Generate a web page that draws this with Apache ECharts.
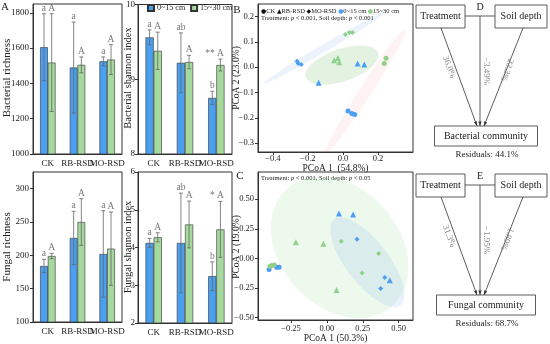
<!DOCTYPE html>
<html><head><meta charset="utf-8">
<script src="https://cdn.jsdelivr.net/npm/echarts@6/dist/echarts.min.js"></script>
<style>html,body{margin:0;padding:0;background:#fff}#c{width:550px;height:344px}</style>
</head><body><div id="c"></div>
<script>
// ---------------- DATA ----------------
const categories = ['CK', 'RB-RSD', 'MO-RSD'];
const depthNames = ['0~15 cm', '15~30 cm'];

// Bacterial richness
const bacRichMean0 = [1605, 1490, 1525];
const bacRichSd0   = [190, 258, 25];
const bacRichMean1 = [1518, 1505, 1535];
const bacRichSd1   = [277, 45, 85];
const bacRichLet0  = ['a', 'a', 'a'];
const bacRichLet1  = ['A', 'A', 'A'];
const bacRichTicks = [1000, 1200, 1400, 1600, 1800];

// Bacterial shannon
const bacShanMean0 = [9.56, 9.22, 8.75];
const bacShanSd0   = [0.1, 0.4, 0.09];
const bacShanMean1 = [9.38, 9.23, 9.19];
const bacShanSd1   = [0.25, 0.09, 0.08];
const bacShanLet0  = ['a', 'ab', 'b'];
const bacShanLet1  = ['A', 'A', '** A'];
const bacShanTicks = [8, 9, 10];

// Fungal richness
const funRichMean0 = [184, 226, 202];
const funRichSd0   = [10, 40, 65];
const funRichMean1 = [199, 250, 210];
const funRichSd1   = [4, 35, 55];
const funRichLet0  = ['a', 'a', 'a'];
const funRichLet1  = ['A', 'A', 'A'];
const funRichTicks = [100, 150, 200, 250, 300];

// Fungal shannon
const funShanMean0 = [4.12, 4.12, 3.24];
const funShanSd0   = [0.12, 1.32, 0.38];
const funShanMean1 = [4.27, 4.61, 4.48];
const funShanSd1   = [0.12, 0.62, 0.74];
const funShanLet0  = ['a', 'ab', 'b'];
const funShanLet1  = ['A', 'A', '* A'];
const funShanTicks = [2, 3, 4, 5, 6];

// PCoA bacteria (B)  [PCoA1, PCoA2]
const bacCK0 = [[0.029, -0.173], [0.051, -0.183], [0.067, -0.187]];
const bacCK1 = [[0.246, 0.036], [0.236, 0.015]];
const bacRB0 = [[0.084, 0.015], [0.122, 0.011], [-0.139, -0.061]];
const bacRB1 = [[-0.05, 0.028], [-0.029, 0.037], [-0.021, 0.02]];
const bacMO0 = [[-0.262, 0.024], [-0.255, 0.015], [-0.238, 0.011]];
const bacMO1 = [[0.014, 0.129], [0.037, 0.137], [0.055, 0.137]];
const bacXTicks = [-0.4, -0.2, 0.0, 0.2];
const bacYTicks = [-0.3, -0.2, -0.1, 0.0, 0.1, 0.2];

// PCoA fungi (C)
const funCK0 = [[-0.403, -0.093], [-0.35, -0.074], [-0.333, -0.074]];
const funCK1 = [[-0.385, -0.059], [-0.367, -0.056], [-0.396, -0.065]];
const funRB0 = [[0.084, 0.379], [0.183, 0.372], [0.438, -0.185]];
const funRB1 = [[-0.216, 0.137], [-0.025, 0.124], [0.067, -0.267]];
const funMO0 = [[0.21, 0.161], [0.403, -0.162], [0.375, -0.253]];
const funMO1 = [[0.1, 0.145], [0.361, 0.042], [0.245, -0.124]];
const funXTicks = [-0.25, 0.0, 0.25, 0.5];
const funYTicks = [-0.5, -0.25, 0.0, 0.25, 0.5];

// Variation partitioning (D, E), %
const bacPart = { treatment: 36.0, shared: -3.49, depth: 23.3, residual: 44.1 };
const funPart = { treatment: 31.3, shared: -1.95, depth: 1.89, residual: 68.7 };

// ---------------- STYLE / LAYOUT ----------------
const SERIF = '"Liberation Serif", "Times New Roman", serif';
const BLUE = '#4a9ff0', GREEN = '#a5d99d';
const PBLUE = '#4a9ff5', PGREEN = '#8fd18a';
const AX = '#333';
const chart = echarts.init(document.getElementById('c'));

const grids = [
  { left: 33, top: 4, width: 89, height: 150 },    // bac richness
  { left: 138, top: 4, width: 94, height: 150 },   // bac shannon
  { left: 33, top: 172, width: 89, height: 150 },  // fun richness
  { left: 138, top: 172, width: 94, height: 151 }, // fun shannon
  { left: 258, top: 4, width: 155, height: 148 },  // B
  { left: 258, top: 172, width: 155, height: 149 } // C
].map(g => Object.assign({ show: true, borderColor: AX, borderWidth: 1, backgroundColor: 'transparent', containLabel: false }, g));

function catX(gi, margin) {
  return { type: 'category', gridIndex: gi, data: categories,
    axisLine: { lineStyle: { color: AX } }, axisTick: { show: false },
    axisLabel: { interval: 0, fontFamily: SERIF, fontSize: 9, color: '#222', margin: margin } };
}
function valY(gi, min, max, ticks, dec, fs, lm) {
  return { type: 'value', gridIndex: gi, min: min, max: max,
    axisLine: { show: true, onZero: false, lineStyle: { color: AX } },
    axisTick: { show: true, length: 3, lineStyle: { color: AX }, customValues: ticks },
    axisLabel: { fontFamily: SERIF, fontSize: fs, color: '#222', margin: lm, customValues: ticks,
      formatter: v => v.toFixed(dec).replace('-', '\u2212') },
    splitLine: { show: false } };
}
function valX(gi, min, max, ticks, dec, name, nameGap, margin) {
  return { type: 'value', gridIndex: gi, min: min, max: max,
    name: name, nameLocation: 'middle', nameGap: nameGap, nameMoveOverlap: false,
    nameTextStyle: { fontFamily: SERIF, fontSize: 9.5, color: '#222' },
    axisLine: { show: true, onZero: false, lineStyle: { color: AX } },
    axisTick: { show: true, length: 3, lineStyle: { color: AX }, customValues: ticks },
    axisLabel: { fontFamily: SERIF, fontSize: 8.5, color: '#222', margin: margin, customValues: ticks,
      formatter: v => v.toFixed(dec).replace('-', '\u2212') },
    splitLine: { show: false } };
}

const xAxes = [catX(0, 5), catX(1, 5), catX(2, 5), catX(3, 5),
  valX(4, -0.485, 0.40, bacXTicks, 1, 'PCoA 1  (54.8%)', 11, 2),
  valX(5, -0.48, 0.60, funXTicks, 2, 'PCoA 1 (50.3%)', 13, 4)];
const yAxes = [
  valY(0, 1000, 1850, bacRichTicks, 0, 9, 4),
  valY(1, 8, 10, bacShanTicks, 0, 9, 3),
  valY(2, 100, 325, funRichTicks, 0, 9, 4),
  valY(3, 2, 6, funShanTicks, 0, 9, 3),
  valY(4, -0.335, 0.25, bacYTicks, 1, 8.5, 4),
  valY(5, -0.52, 0.73, funYTicks, 2, 8.5, 4)
];

const series = [];
function addBars(gi, m0, s0, l0, m1, s1, l1) {
  [[m0, s0, l0, BLUE, -0.13, depthNames[0]], [m1, s1, l1, GREEN, 0.13, depthNames[1]]].forEach(([m, s, l, col, off, nm]) => {
    series.push({ type: 'bar', name: nm, xAxisIndex: gi, yAxisIndex: gi, data: m,
      barWidth: '26%', barGap: '0%', itemStyle: { color: col, borderColor: '#333', borderWidth: 0.6 }, silent: true });
    series.push({ type: 'custom', xAxisIndex: gi, yAxisIndex: gi, z: 5, silent: true,
      data: m.map((v, i) => [i, v, s[i]]),
      renderItem(params, api) {
        const i = api.value(0), v = api.value(1), sd = api.value(2);
        const band = api.size([1, 0])[0];
        const x = api.coord([i, v])[0] + off * band;
        const yt = api.coord([i, v + sd])[1], yb = api.coord([i, v - sd])[1];
        const cap = 2, lt = l[i], star = lt.indexOf('*') >= 0;
        const st = { stroke: '#666', lineWidth: 0.8 };
        return { type: 'group', children: [
          { type: 'line', shape: { x1: x, y1: yt, x2: x, y2: yb }, style: st },
          { type: 'line', shape: { x1: x - cap, y1: yt, x2: x + cap, y2: yt }, style: st },
          { type: 'line', shape: { x1: x - cap, y1: yb, x2: x + cap, y2: yb }, style: st },
          { type: 'text', x: star ? x + 3.5 : x, y: yt - 0.5,
            style: { text: lt, textAlign: star ? 'right' : 'center', textVerticalAlign: 'bottom',
              fontFamily: SERIF, fontSize: 9.5, fill: '#777' } }
        ] };
      } });
  });
}
addBars(0, bacRichMean0, bacRichSd0, bacRichLet0, bacRichMean1, bacRichSd1, bacRichLet1);
addBars(1, bacShanMean0, bacShanSd0, bacShanLet0, bacShanMean1, bacShanSd1, bacShanLet1);
addBars(2, funRichMean0, funRichSd0, funRichLet0, funRichMean1, funRichSd1, funRichLet1);
addBars(3, funShanMean0, funShanSd0, funShanLet0, funShanMean1, funShanSd1, funShanLet1);

// confidence ellipse from points
function ellipsePts(pts, k) {
  const N = pts.length;
  const mx = pts.reduce((a, p) => a + p[0], 0) / N, my = pts.reduce((a, p) => a + p[1], 0) / N;
  let sxx = 0, syy = 0, sxy = 0;
  pts.forEach(p => { const dx = p[0] - mx, dy = p[1] - my; sxx += dx * dx; syy += dy * dy; sxy += dx * dy; });
  sxx /= (N - 1); syy /= (N - 1); sxy /= (N - 1);
  const tr = sxx + syy, det = sxx * syy - sxy * sxy, disc = Math.sqrt(Math.max(0, tr * tr / 4 - det));
  const l1 = tr / 2 + disc, l2 = Math.max(tr / 2 - disc, 0);
  const ang = 0.5 * Math.atan2(2 * sxy, sxx - syy);
  const a = k * Math.sqrt(l1), b = k * Math.sqrt(l2);
  const out = [];
  for (let i = 0; i < 90; i++) {
    const t = 2 * Math.PI * i / 90, ex = a * Math.cos(t), ey = b * Math.sin(t);
    out.push([mx + ex * Math.cos(ang) - ey * Math.sin(ang), my + ex * Math.sin(ang) + ey * Math.cos(ang)]);
  }
  return out;
}
function addEllipse(gi, pts, fill) {
  const poly = ellipsePts(pts, 2.2);
  series.push({ type: 'custom', xAxisIndex: gi, yAxisIndex: gi, z: 1, silent: true, clip: true,
    data: [[0]],
    renderItem(params, api) {
      return { type: 'polygon', shape: { points: poly.map(p => api.coord(p)) }, style: { fill: fill } };
    } });
}
function addPoints(gi, pts, sym, size, col) {
  series.push({ type: 'scatter', xAxisIndex: gi, yAxisIndex: gi, z: 3, silent: true, data: pts,
    symbol: sym, symbolSize: size, itemStyle: { color: col, opacity: 1 } });
}
addEllipse(4, bacCK0.concat(bacCK1), 'rgba(240,110,110,0.09)');
addEllipse(4, bacMO0.concat(bacMO1), 'rgba(80,150,235,0.11)');
addEllipse(4, bacRB0.concat(bacRB1), 'rgba(150,210,140,0.26)');
addEllipse(5, funCK0.concat(funCK1), 'rgba(240,110,110,0.09)');
addEllipse(5, funRB0.concat(funRB1), 'rgba(150,215,145,0.16)');
addEllipse(5, funMO0.concat(funMO1), 'rgba(80,150,235,0.12)');
[[4, bacCK0, bacCK1, bacRB0, bacRB1, bacMO0, bacMO1], [5, funCK0, funCK1, funRB0, funRB1, funMO0, funMO1]].forEach(
  ([gi, c0, c1, r0, r1, m0, m1]) => {
    addPoints(gi, c0, 'circle', 5, PBLUE); addPoints(gi, c1, 'circle', 5, PGREEN);
    addPoints(gi, r0, 'triangle', 6, PBLUE); addPoints(gi, r1, 'triangle', 6, PGREEN);
    addPoints(gi, m0, 'diamond', 5, PBLUE); addPoints(gi, m1, 'diamond', 5, PGREEN);
  });

// ---------------- GRAPHIC (labels, legends, diagrams) ----------------
const G = [];
function txt(x, y, text, o, rot) {
  G.push({ type: 'text', x: x, y: y, rotation: rot || 0, silent: true,
    style: Object.assign({ text: text, fontFamily: SERIF, fontSize: 10, fill: '#222', textAlign: 'center', textVerticalAlign: 'middle' }, o || {}) });
}
txt(5, 7, 'A', { fontSize: 11 });
txt(237, 10, 'B', { fontSize: 11 });
txt(240, 176, 'C', { fontSize: 11 });
// y-axis titles
const R90 = Math.PI / 2;
txt(7, 78, 'Bacterial richness', { fontSize: 11 }, R90);
txt(7, 247, 'Fungal richness', { fontSize: 11 }, R90);
txt(128.5, 78, 'Bacterial shannon index', { fontSize: 10.5 }, R90);
txt(128.5, 247, 'Fungal shannon index', { fontSize: 10.5 }, R90);
txt(236.5, 78, 'PCoA 2 (23.0%)', { fontSize: 9.5 }, R90);
txt(236.5, 247, 'PCoA 2 (19.0%)', { fontSize: 9.5 }, R90);

const sym = { fontFamily: '"DejaVu Sans"', fontSize: 6, fill: '#111' };
const rt = { fontFamily: SERIF, fontSize: 6.5, fill: '#222' };
G.push({ type: 'text', x: 261, y: 11, silent: true, style: {
  text: '{s|\u25CF}{t|CK }{s|\u25B2}{t|RB-RSD }{s|\u25C6}{t|MO-RSD }{b|\u25CF}{t|' + depthNames[0] + ' }{g|\u25CF}{t|' + depthNames[1] + '}',
  textVerticalAlign: 'middle', rich: { s: sym, t: rt, b: Object.assign({}, sym, { fill: PBLUE }), g: Object.assign({}, sym, { fill: PGREEN }) } } });
function pline(x, y, depthP) {
  G.push({ type: 'text', x: x, y: y, silent: true, style: {
    text: '{t|Treatment: }{i|p}{t| < 0.001, Soil depth: }{i|p}{t| < ' + depthP + '}',
    textVerticalAlign: 'middle', rich: { t: rt, i: Object.assign({}, rt, { fontStyle: 'italic' }) } } });
}
pline(261, 18.5, '0.001');
pline(261, 178, '0.05');

function pct(v) { return (v < 0 ? '\u2212' : '') + Math.abs(v).toFixed(v === Math.round(v * 10) / 10 ? 1 : 2) + '%'; }
function rect(x, y, w, h) {
  G.push({ type: 'rect', silent: true, shape: { x: x, y: y, width: w, height: h }, style: { fill: '#fff', stroke: '#333', lineWidth: 0.8 } });
}
function arrow(x1, y1, x2, y2) {
  G.push({ type: 'line', silent: true, shape: { x1: x1, y1: y1, x2: x2, y2: y2 }, style: { stroke: '#333', lineWidth: 0.8 } });
  const a = Math.atan2(y2 - y1, x2 - x1), L = 4.5, W = 1.6;
  const bx = x2 - L * Math.cos(a), by = y2 - L * Math.sin(a);
  G.push({ type: 'polygon', silent: true, shape: { points: [[x2, y2], [bx + W * Math.sin(a), by - W * Math.cos(a)], [bx - W * Math.sin(a), by + W * Math.cos(a)]] }, style: { fill: '#333' } });
}
function diagram(y0, letter, part, target, tw) {
  G.push({ type: 'line', silent: true, shape: { x1: 465, y1: y0 + 11, x2: 495, y2: y0 + 11 }, style: { stroke: '#333', lineWidth: 0.8 } });
  rect(416, y0, 49, 23); rect(495, y0, 52, 23);
  txt(440.5, y0 + 11.5, 'Treatment');
  txt(521, y0 + 11.5, 'Soil depth');
  txt(480, y0 + 2, letter, { fontSize: 10 });
  const by = y0 + 121;
  arrow(480, y0 + 11, 480, by);
  arrow(441, y0 + 23, 477, by);
  arrow(523, y0 + 23, 484, by);
  rect(486 - tw / 2, by, tw, 20);
  txt(486, by + 10, target);
  txt(487, by + 29, 'Residuals: ' + part.residual.toFixed(1) + '%', { fontSize: 9 });
  const g = { fontSize: 9, fill: '#888' };
  txt(449, y0 + 62, pct(part.treatment), g, -1.21);
  txt(486, y0 + 66, pct(part.shared), g, -Math.PI / 2);
  txt(507, y0 + 65, pct(part.depth), g, -1.92);
}
diagram(5, 'D', bacPart, 'Bacterial community', 103);
diagram(174, 'E', funPart, 'Fungal community', 99);

chart.setOption({
  animation: false,
  backgroundColor: '#fff',
  grid: grids,
  xAxis: xAxes,
  yAxis: yAxes,
  legend: { data: depthNames, left: 147, top: 4, itemWidth: 6, itemHeight: 6, itemGap: 5, padding: 0,
    textStyle: { fontFamily: SERIF, fontSize: 8, color: '#222', padding: [0, 0, 0, -2] }, icon: 'rect' },
  series: series,
  graphic: G
});
</script>
</body></html>
